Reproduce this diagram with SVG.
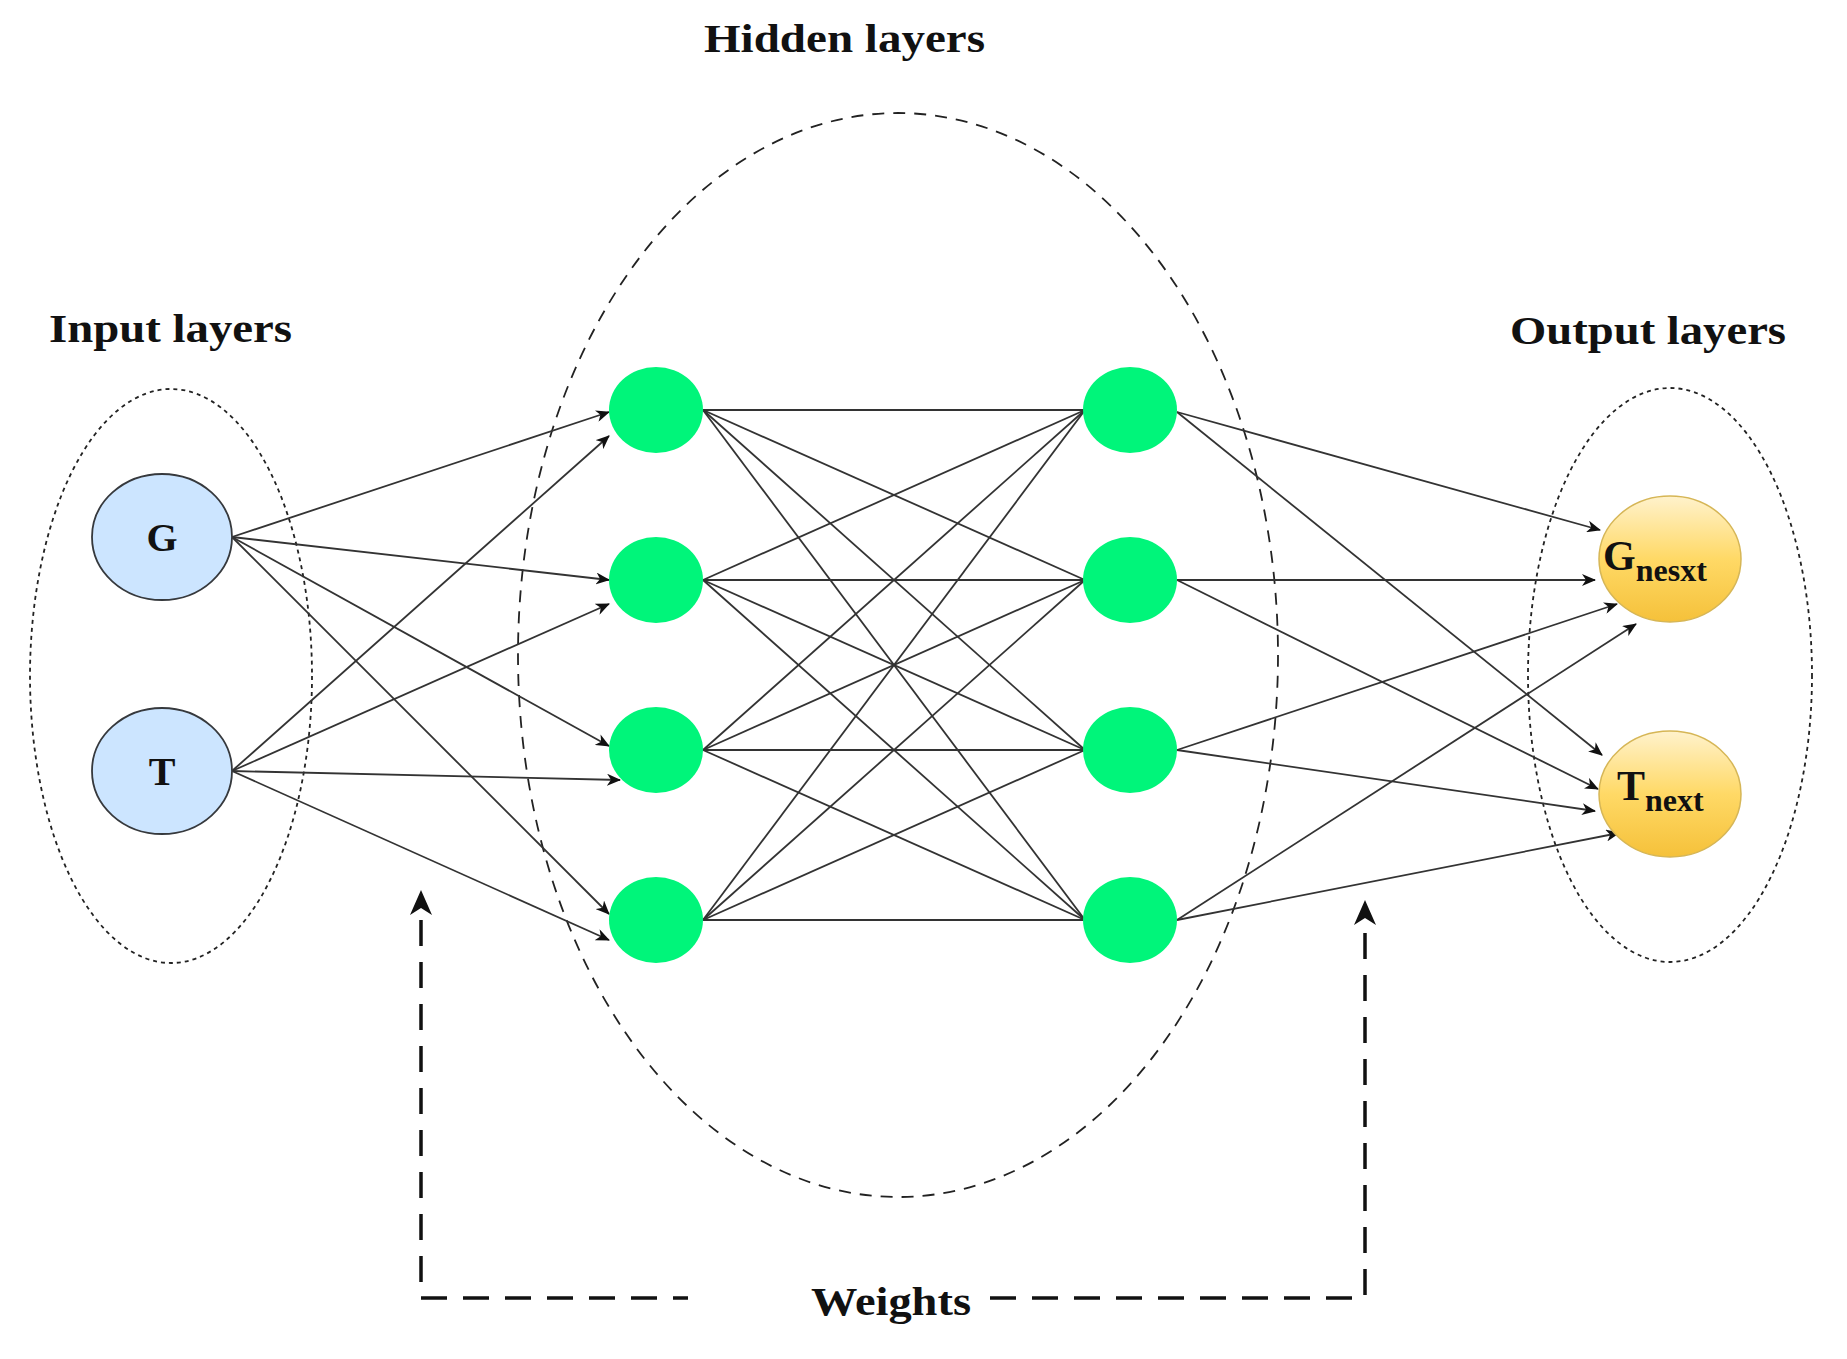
<svg xmlns="http://www.w3.org/2000/svg" width="1847" height="1359" viewBox="0 0 1847 1359">
<style>
.lbl{font-family:"Liberation Serif",serif;font-weight:bold;fill:#111;}
.e{stroke:#333;stroke-width:1.8;fill:none;}
.ea{stroke:#333;stroke-width:1.8;fill:none;marker-end:url(#ah);}
.hid{fill:#00f57a;}
</style>
<defs>
<marker id="ah" markerWidth="14" markerHeight="12" refX="13" refY="6" orient="auto" markerUnits="userSpaceOnUse">
<path d="M0,0 L14,6 L0,12 L4,6 z" fill="#111"/>
</marker>
<marker id="ahw" markerWidth="22" markerHeight="24" refX="11" refY="0" orient="auto" markerUnits="userSpaceOnUse">
<path d="M0,0 L11,0 L22,0 Z" fill="#111"/>
</marker>
<linearGradient id="og" x1="0" y1="0" x2="0" y2="1">
<stop offset="0" stop-color="#fff2cc"/>
<stop offset="0.5" stop-color="#ffd966"/>
<stop offset="1" stop-color="#f5c13a"/>
</linearGradient>
</defs>
<rect width="1847" height="1359" fill="#fff"/>
<g id="groups" fill="none" stroke="#222">
<ellipse cx="171" cy="676" rx="141" ry="287" stroke-width="1.8" stroke-dasharray="4,4"/>
<ellipse cx="1670" cy="675" rx="142" ry="287" stroke-width="1.8" stroke-dasharray="4,4"/>
<ellipse cx="898" cy="655" rx="380" ry="542" stroke-width="1.8" stroke-dasharray="12,9"/>
</g>
<text class="lbl" x="49" y="342" font-size="40" textLength="243" lengthAdjust="spacingAndGlyphs">Input layers</text>
<text class="lbl" x="704" y="52" font-size="40" textLength="281" lengthAdjust="spacingAndGlyphs">Hidden layers</text>
<text class="lbl" x="1510" y="344" font-size="40" textLength="276" lengthAdjust="spacingAndGlyphs">Output layers</text>
<g id="connectors">
<line class="ea" x1="232" y1="537" x2="609" y2="412"/>
<line class="ea" x1="232" y1="537" x2="609" y2="580"/>
<line class="ea" x1="232" y1="537" x2="609" y2="746"/>
<line class="ea" x1="232" y1="537" x2="609" y2="914"/>
<line class="ea" x1="232" y1="771" x2="609" y2="436"/>
<line class="ea" x1="232" y1="771" x2="609" y2="604"/>
<line class="ea" x1="232" y1="771" x2="620" y2="780"/>
<line class="ea" x1="232" y1="771" x2="609" y2="940"/>
<g class="e">
<line x1="703" y1="410" x2="1085" y2="410"/><line x1="703" y1="410" x2="1085" y2="580"/><line x1="703" y1="410" x2="1085" y2="750"/><line x1="703" y1="410" x2="1085" y2="920"/>
<line x1="703" y1="580" x2="1085" y2="410"/><line x1="703" y1="580" x2="1085" y2="580"/><line x1="703" y1="580" x2="1085" y2="750"/><line x1="703" y1="580" x2="1085" y2="920"/>
<line x1="703" y1="750" x2="1085" y2="410"/><line x1="703" y1="750" x2="1085" y2="580"/><line x1="703" y1="750" x2="1085" y2="750"/><line x1="703" y1="750" x2="1085" y2="920"/>
<line x1="703" y1="920" x2="1085" y2="410"/><line x1="703" y1="920" x2="1085" y2="580"/><line x1="703" y1="920" x2="1085" y2="750"/><line x1="703" y1="920" x2="1085" y2="920"/>
</g>
<line class="ea" x1="1177" y1="412" x2="1600" y2="530"/>
<line class="ea" x1="1177" y1="580" x2="1595" y2="580"/>
<line class="ea" x1="1177" y1="750" x2="1617" y2="604"/>
<line class="ea" x1="1177" y1="920" x2="1636" y2="624"/>
<line class="ea" x1="1177" y1="412" x2="1602" y2="755"/>
<line class="ea" x1="1177" y1="580" x2="1598" y2="789"/>
<line class="ea" x1="1177" y1="750" x2="1595" y2="811"/>
<line class="ea" x1="1177" y1="920" x2="1619" y2="833"/>
<g fill="none" stroke="#111" stroke-width="3.5" stroke-dasharray="26,16">
<polyline points="421,920 421,1298 688,1298"/>
<polyline points="990,1298 1365,1298 1365,925"/>
</g>
<path d="M421,890 L410,915 L421,908 L432,915 Z" fill="#111"/>
<path d="M1365,900 L1354,925 L1365,918 L1376,925 Z" fill="#111"/>
</g>
<text class="lbl" x="811" y="1315" font-size="40" textLength="160" lengthAdjust="spacingAndGlyphs">Weights</text>
<g id="G"><ellipse cx="162" cy="537" rx="70" ry="63" fill="#cce5ff" stroke="#36393d" stroke-width="1.8"/><text class="lbl" x="162" y="551" font-size="40" text-anchor="middle">G</text></g>
<g id="T"><ellipse cx="162" cy="771" rx="70" ry="63" fill="#cce5ff" stroke="#36393d" stroke-width="1.8"/><text class="lbl" x="162" y="785" font-size="40" text-anchor="middle">T</text></g>
<g id="h1"><ellipse class="hid" cx="656" cy="410" rx="47" ry="43"/></g>
<g id="h2"><ellipse class="hid" cx="656" cy="580" rx="47" ry="43"/></g>
<g id="h3"><ellipse class="hid" cx="656" cy="750" rx="47" ry="43"/></g>
<g id="h4"><ellipse class="hid" cx="656" cy="920" rx="47" ry="43"/></g>
<g id="h5"><ellipse class="hid" cx="1130" cy="410" rx="47" ry="43"/></g>
<g id="h6"><ellipse class="hid" cx="1130" cy="580" rx="47" ry="43"/></g>
<g id="h7"><ellipse class="hid" cx="1130" cy="750" rx="47" ry="43"/></g>
<g id="h8"><ellipse class="hid" cx="1130" cy="920" rx="47" ry="43"/></g>
<g id="Gnext"><ellipse cx="1670" cy="559" rx="71" ry="63" fill="url(#og)" stroke="#d6b656" stroke-width="1.5"/><text class="lbl" x="1603" y="570" font-size="42">G<tspan font-size="32" dy="11">nesxt</tspan></text></g>
<g id="Tnext"><ellipse cx="1670" cy="794" rx="71" ry="63" fill="url(#og)" stroke="#d6b656" stroke-width="1.5"/><text class="lbl" x="1617" y="800" font-size="42">T<tspan font-size="32" dy="11">next</tspan></text></g>
</svg>
